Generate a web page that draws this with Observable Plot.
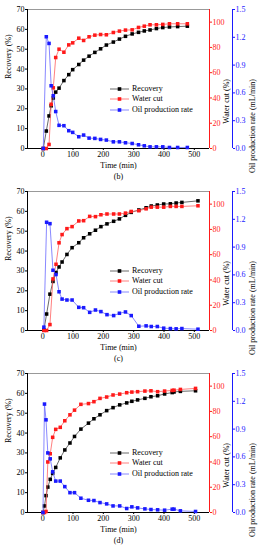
<!DOCTYPE html>
<html><head><meta charset="utf-8">
<script src="https://cdn.jsdelivr.net/npm/d3@7"></script>
<script src="https://cdn.jsdelivr.net/npm/@observablehq/plot@0.6"></script>
<style>
body{margin:0;background:#fff;font-family:"Liberation Serif","Times New Roman",serif;}
.panel{position:relative;width:261px;height:182px;}
.legend{position:absolute;left:110px;top:84px;font-size:8px;line-height:10.3px;color:#000;}
.row{display:flex;align-items:center;height:10.3px;white-space:nowrap;}
.row svg{margin-right:3px;}
</style></head><body><div id="root"></div>
<script>
// ---- data ----
const panelTags = ["(b)", "(c)", "(d)"];
const seriesNames = ["Recovery", "Water cut", "Oil production rate"];

const timeB = [2, 12, 21, 28, 35, 43, 54, 70, 86, 99, 119, 135, 153, 172, 191, 210, 233, 253, 273, 295, 316, 335, 354, 375, 396, 418, 445, 477];
const recoveryB = [0, 8.8, 16.4, 21.5, 25.4, 28.4, 30.4, 34.2, 37.2, 39.7, 42.3, 44.5, 46.5, 48.4, 50.2, 52.1, 53.6, 55.1, 56.5, 57.7, 58.5, 59.2, 59.7, 60.4, 60.9, 61.2, 61.4, 61.6];
const waterCutB = [0, 0, 3.2, 35, 48, 72, 78.6, 76.2, 82, 83.6, 87.3, 85.5, 88.4, 89.7, 90.2, 90, 91.8, 92.9, 93.7, 93.9, 95.8, 96.8, 97.9, 97.9, 98.2, 98.7, 98.7, 98.7];
const oilRateB = [0, 1.206, 1.134, 0.677, 0.569, 0.399, 0.25, 0.246, 0.192, 0.174, 0.127, 0.145, 0.112, 0.109, 0.098, 0.091, 0.072, 0.072, 0.062, 0.054, 0.04, 0.029, 0.018, 0.018, 0.018, 0.011, 0.011, 0.011];

const timeC = [4, 13, 24, 34, 44, 54, 64, 80, 97, 119, 135, 155, 174, 192, 212, 234, 253, 273, 292, 317, 341, 358, 378, 399, 421, 440, 459, 512];
const recoveryC = [0.3, 8.3, 18.3, 24.7, 29.2, 32, 34.5, 38.3, 41.7, 44.2, 46.7, 48.7, 50.5, 52.3, 53.7, 55, 56.2, 58, 59.5, 60.7, 61.8, 62.7, 63.2, 63.7, 63.8, 64.2, 64.5, 65.3];
const waterCutC = [0, 0, 4.7, 40.8, 52.4, 69.4, 75.9, 80.6, 82.2, 86.7, 86.9, 90.3, 90.1, 91.6, 92.2, 92.2, 92.2, 92.9, 94.2, 94.8, 96.3, 97.6, 97.6, 97.6, 98.2, 98.2, 98.2, 98.7];
const oilRateC = [0.036, 1.168, 1.153, 0.65, 0.604, 0.418, 0.339, 0.329, 0.329, 0.25, 0.246, 0.196, 0.221, 0.204, 0.171, 0.161, 0.186, 0.2, 0.161, 0.046, 0.05, 0.043, 0.043, 0.025, 0.021, 0.018, 0.021, 0.014];

const timeD = [1, 6, 11, 17, 25, 33, 43, 58, 73, 90, 105, 126, 151, 169, 189, 211, 232, 254, 277, 294, 313, 337, 357, 379, 402, 427, 433, 454, 504];
const recoveryD = [0, 3.3, 8.5, 12.8, 16.7, 19.7, 22.7, 27.5, 31.5, 35, 38.3, 42, 45, 47.2, 49.2, 51.3, 52.8, 54.2, 55.2, 56, 56.7, 57.5, 58.3, 58.8, 59.7, 60.4, 60.7, 61, 61.3];
const waterCutD = [0, 0, 0.8, 40, 46.5, 59.5, 65.8, 67.4, 72.6, 77.3, 81, 85.6, 86.2, 87.7, 90.3, 91.4, 93, 93.7, 94.8, 95.3, 95.6, 96.1, 96.3, 95.6, 96.1, 96.6, 96.8, 97.4, 98.2];
const oilRateD = [0, 1.17, 1.0, 0.643, 0.579, 0.439, 0.339, 0.339, 0.279, 0.214, 0.214, 0.154, 0.132, 0.129, 0.107, 0.093, 0.071, 0.071, 0.043, 0.061, 0.05, 0.039, 0.032, 0.029, 0.025, 0.036, 0.036, 0.018, 0.011];

const timeTicks = [0, 100, 200, 300, 400, 500];
const recoveryTicks = [0, 10, 20, 30, 40, 50, 60, 70];
const waterCutTicks = [0, 20, 40, 60, 80, 100];
const oilRateTicks = [0, 0.3, 0.6, 0.9, 1.2, 1.5];
const timeDomain = [-50, 550];
const recoveryDomain = [0, 70];
const waterCutDomain = [0, 110];
const oilRateDomain = [0, 1.5];

// ---- drawing ----
const BLACK = "#000", RED = "#ff1a1a", BLUE = "#1a1aff";
const kW = recoveryDomain[1] / waterCutDomain[1];
const kQ = recoveryDomain[1] / oilRateDomain[1];

const panels = [
  {tag: panelTags[0], t: timeB, r: recoveryB, w: waterCutB, q: oilRateB},
  {tag: panelTags[1], t: timeC, r: recoveryC, w: waterCutC, q: oilRateC},
  {tag: panelTags[2], t: timeD, r: recoveryD, w: waterCutD, q: oilRateD}
];

function legendRow(name, color, lineColor) {
  return `<div class="row"><svg width="19" height="8"><line x1="0" y1="4" x2="19" y2="4" stroke="${lineColor}" stroke-width="0.8"/><rect x="7.7" y="2.2" width="3.6" height="3.6" fill="${color}"/></svg>${name}</div>`;
}

const root = document.getElementById("root");
for (const p of panels) {
  const data = p.t.map((t, i) => ({t, r: p.r[i], w: p.w[i] * kW, q: p.q[i] * kQ}));
  const chart = Plot.plot({
    width: 261, height: 182,
    marginLeft: 27, marginRight: 52, marginTop: 9, marginBottom: 34,
    style: {fontFamily: "'Liberation Serif','Times New Roman',serif", fontSize: "8px", background: "transparent", overflow: "visible", color: "#000"},
    x: {domain: timeDomain},
    y: {domain: recoveryDomain},
    marks: [
      Plot.ruleY([recoveryDomain[1]], {stroke: "#999", strokeWidth: 1}),
      Plot.ruleY([recoveryDomain[0]], {stroke: BLACK, strokeWidth: 1}),
      Plot.ruleX([timeDomain[0]], {stroke: BLACK, strokeWidth: 1}),
      Plot.ruleX([timeDomain[1]], {stroke: RED, strokeWidth: 1}),
      Plot.ruleX([timeDomain[1]], {stroke: BLUE, strokeWidth: 1, dx: 23}),
      Plot.axisX(timeTicks, {tickSize: 2, tickPadding: 1, label: null}),
      Plot.axisY(recoveryTicks, {anchor: "left", tickSize: 2, tickPadding: 1, label: null}),
      Plot.axisY(waterCutTicks, {anchor: "right", y: d => d * kW, tickFormat: d => String(d), color: RED, tickSize: 2, tickPadding: 1, label: null}),
      Plot.axisY(oilRateTicks, {anchor: "right", y: d => d * kQ, tickFormat: d => d.toFixed(1), color: BLUE, dx: 23, tickSize: 2, tickPadding: 1, label: null}),
      Plot.text(["Recovery (%)"], {frameAnchor: "left", dx: -19, rotate: -90, fill: BLACK}),
      Plot.text(["Water cut (%)"], {frameAnchor: "right", dx: 17, rotate: -90, fill: BLACK}),
      Plot.text(["Oil production rate (mL/min)"], {frameAnchor: "right", dx: 43, rotate: -90, fill: BLACK}),
      Plot.text(["Time (min)"], {frameAnchor: "bottom", dy: 19, fill: BLACK}),
      Plot.text([p.tag], {frameAnchor: "bottom", dy: 30, fill: BLACK}),
      Plot.line(data, {x: "t", y: "r", stroke: "#444", strokeWidth: 0.8}),
      Plot.dot(data, {x: "t", y: "r", symbol: "square", fill: BLACK, r: 2}),
      Plot.line(data, {x: "t", y: "w", stroke: "#ff6060", strokeWidth: 0.8}),
      Plot.dot(data, {x: "t", y: "w", symbol: "square", fill: RED, r: 2}),
      Plot.line(data, {x: "t", y: "q", stroke: "#6a6aff", strokeWidth: 0.8}),
      Plot.dot(data, {x: "t", y: "q", symbol: "square", fill: BLUE, r: 2})
    ]
  });
  const div = document.createElement("div");
  div.className = "panel";
  div.appendChild(chart);
  const leg = document.createElement("div");
  leg.className = "legend";
  leg.innerHTML = legendRow(seriesNames[0], BLACK, "#444") + legendRow(seriesNames[1], RED, "#ff6060") + legendRow(seriesNames[2], BLUE, "#6a6aff");
  div.appendChild(leg);
  root.appendChild(div);
}
</script></body></html>
